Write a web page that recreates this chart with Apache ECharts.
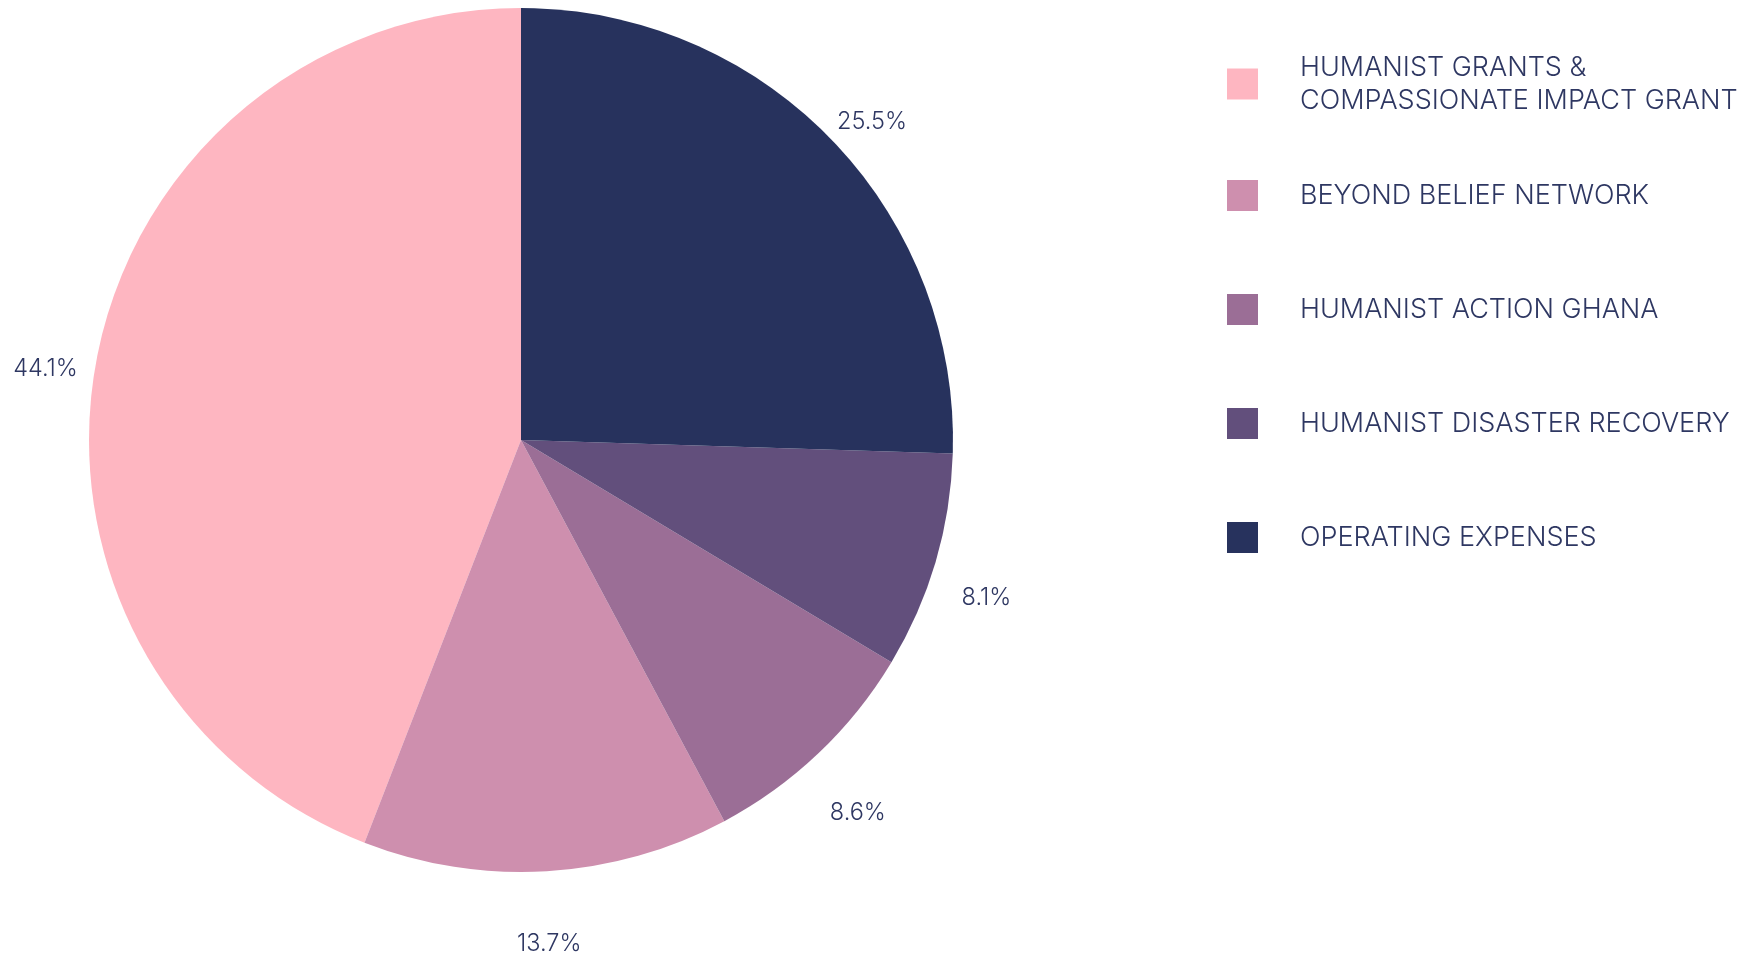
<!DOCTYPE html>
<html>
<head>
<meta charset="utf-8">
<script src="https://cdn.jsdelivr.net/npm/echarts@6/dist/echarts.min.js"></script>
<style>
  html, body { margin: 0; padding: 0; background: #fff; }
  #chart { width: 1756px; height: 959px; }
</style>
</head>
<body>
<div id="chart"></div>
<script>
// categories and values
const categories = [
  'HUMANIST GRANTS & COMPASSIONATE IMPACT GRANT',
  'BEYOND BELIEF NETWORK',
  'HUMANIST ACTION GHANA',
  'HUMANIST DISASTER RECOVERY',
  'OPERATING EXPENSES'
]
const shares = [44.1, 13.7, 8.6, 8.1, 25.5]
const colors = ['#FEB6C1', '#CE8FAE', '#9B6E96', '#624F7C', '#27325D']

const textColor = '#2E3762'
const font = 'Inter'

const chart = echarts.init(document.getElementById('chart'))

// one legend per item so the two-line first entry keeps even spacing
const legendTops = [46, 174, 288, 402, 516]
const legends = categories.map((name, i) => ({
  data: [name],
  orient: 'vertical',
  left: 1222,
  top: legendTops[i],
  icon: 'rect',
  itemWidth: 31,
  itemHeight: 31,
  selectedMode: false,
  formatter: (n) => n.replace(' & ', ' &\n'),
  textStyle: {
    color: textColor,
    fontFamily: font,
    fontWeight: 300,
    fontSize: 27,
    lineHeight: 33,
    padding: [0, 0, 0, 37]
  }
}))

// small nudges so the labels sit where the reference puts them
const labelNudge = [[14, 13], [-42, 51], [-15, 44], [-6, 30], [-21, -2]]

chart.setOption({
  animation: false,
  color: colors,
  legend: legends,
  series: [{
    type: 'pie',
    center: [521, 440],
    radius: 432,
    startAngle: 90,
    clockwise: false,
    label: {
      show: true,
      position: 'outside',
      overflow: 'none',
      formatter: (p) => p.value.toFixed(1) + '%',
      color: textColor,
      fontFamily: font,
      fontWeight: 300,
      fontSize: 23.5
    },
    labelLine: { show: false, length: 22, length2: 6 },
    labelLayout: (p) => ({ dx: labelNudge[p.dataIndex][0], dy: labelNudge[p.dataIndex][1] }),
    emphasis: { disabled: true },
    data: categories.map((name, i) => ({ name: name, value: shares[i] }))
  }]
})
</script>
</body>
</html>
